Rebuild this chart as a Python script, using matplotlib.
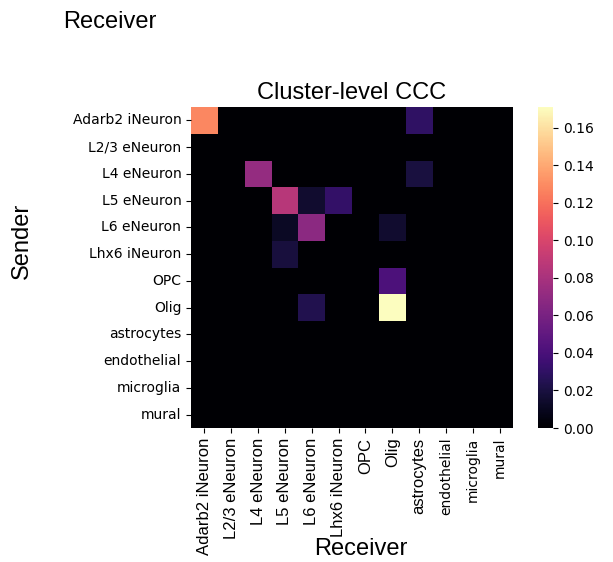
import numpy as np
import pandas as pd
import matplotlib
matplotlib.use("Agg")
import matplotlib.pyplot as plt
import seaborn as sns

clusters = ["Adarb2 iNeuron", "L2/3 eNeuron", "L4 eNeuron", "L5 eNeuron",
            "L6 eNeuron", "Lhx6 iNeuron", "OPC", "Olig", "astrocytes",
            "endothelial", "microglia", "mural"]

# nonzero sender -> receiver scores, everything else is 0
links = [
    ("Adarb2 iNeuron", "Adarb2 iNeuron", 0.128),
    ("Adarb2 iNeuron", "astrocytes", 0.030),
    ("L4 eNeuron", "L4 eNeuron", 0.072),
    ("L4 eNeuron", "astrocytes", 0.020),
    ("L5 eNeuron", "L5 eNeuron", 0.086),
    ("L5 eNeuron", "L6 eNeuron", 0.015),
    ("L5 eNeuron", "Lhx6 iNeuron", 0.031),
    ("L6 eNeuron", "L5 eNeuron", 0.012),
    ("L6 eNeuron", "L6 eNeuron", 0.068),
    ("L6 eNeuron", "Olig", 0.015),
    ("Lhx6 iNeuron", "L5 eNeuron", 0.019),
    ("OPC", "Olig", 0.041),
    ("Olig", "L6 eNeuron", 0.024),
    ("Olig", "Olig", 0.171),
]

ccc = pd.DataFrame(0.0, index=clusters, columns=clusters)
for s, r, v in links:
    ccc.loc[s, r] = v

fig = plt.figure(figsize=(6.13, 5.62), dpi=100)
ax = fig.add_axes([0.3116, 0.2384, 0.5253, 0.5712])
cax = fig.add_axes([0.8777, 0.2384, 0.0245, 0.5712])

sns.heatmap(ccc, cmap="magma", vmin=0, vmax=0.171, ax=ax, cbar_ax=cax)
cax.set_yticks(np.arange(0, 0.17, 0.02))
cax.tick_params(labelsize=10)

ax.set_title("Cluster-level CCC", fontsize=17, family="Liberation Sans", pad=6)
ax.set_yticklabels(clusters, rotation=0, fontsize=10)
ax.set_xticklabels(clusters, rotation=90, fontsize=12, family="Liberation Sans")
for lab in ax.get_xticklabels()[-3:]:
    lab.set_family("DejaVu Sans")
    lab.set_fontsize(10)
ax.set_xlabel("")
ax.set_ylabel("")

fig.text(63 / 613, 1 - 28 / 562, "Receiver", fontsize=17,
         family="Liberation Sans", ha="left", va="baseline")
fig.text(361 / 613, 1 - 555 / 562, "Receiver", fontsize=17,
         family="Liberation Sans", ha="center", va="baseline")
fig.text(33 / 613, 1 - 241 / 562, "Sender", fontsize=17, rotation=90,
         family="Liberation Sans", ha="right", va="center")

fig.savefig("out.png", dpi=100)
